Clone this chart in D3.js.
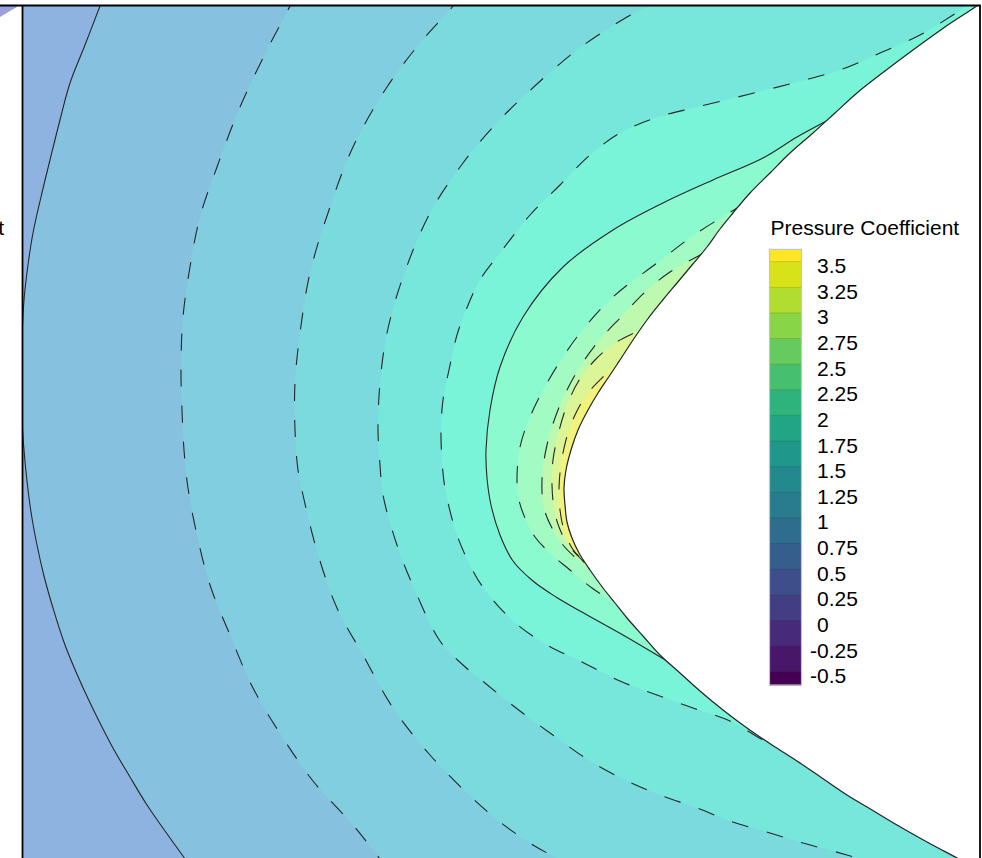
<!DOCTYPE html>
<html>
<head>
<meta charset="utf-8">
<script src="https://cdn.jsdelivr.net/npm/d3@7"></script>
<style>
  html, body { margin: 0; padding: 0; background: #fff; }
  svg { display: block; }
  text { font-family: "Liberation Sans", Arial, Helvetica, sans-serif; fill: #000; }
</style>
</head>
<body>
<svg id="chart" width="982" height="858"></svg>
<script>
// Pressure-coefficient field around a blunt nose, nose-radius units (x downstream, y up).

// Body surface, upper shoulder -> stagnation point -> lower shoulder
const bodySurface = [
  [4.265, 4.93], [4.145, 4.83], [3.815, 4.61], [3.495, 4.38], [3.215, 4.17], [2.935, 3.95],
  [2.715, 3.75], [2.495, 3.55], [2.265, 3.35], [2.065, 3.15], [1.865, 2.95], [1.695, 2.75],
  [1.565, 2.59], [1.435, 2.41], [1.285, 2.23], [1.135, 2.05], [0.985, 1.87], [0.835, 1.68],
  [0.695, 1.48], [0.565, 1.28], [0.445, 1.10], [0.345, 0.95], [0.245, 0.78], [0.145, 0.58],
  [0.075, 0.38], [0.025, 0.18], [0.005, 0.00], [0.015, -0.17], [0.035, -0.34], [0.085, -0.50],
  [0.155, -0.65], [0.265, -0.82], [0.395, -1.00], [0.515, -1.15], [0.635, -1.30], [0.795, -1.48],
  [0.965, -1.67], [1.165, -1.85], [1.365, -2.03], [1.595, -2.22], [1.835, -2.40], [2.085, -2.57],
  [2.335, -2.73], [2.585, -2.90], [2.835, -3.07], [3.085, -3.22], [3.335, -3.37], [3.635, -3.54],
  [3.935, -3.70], [4.215, -3.85]
];

// Iso-Cp lines, one array per level
const cp08 = [[-5.40, 4.85], [-5.425, 4.835], [-5.635, 4.71], [-5.80, 4.61]];
const cp10 = [
  [-4.595, 4.93], [-4.635, 4.82], [-4.785, 4.43], [-4.935, 4.05], [-5.035, 3.68], [-5.135, 3.28],
  [-5.225, 2.91], [-5.305, 2.55], [-5.355, 2.23], [-5.395, 1.88], [-5.415, 1.48], [-5.42, 1.08],
  [-5.415, 0.68], [-5.395, 0.38], [-5.365, 0.07], [-5.325, -0.24], [-5.265, -0.57], [-5.195, -0.88],
  [-5.105, -1.20], [-4.985, -1.57], [-4.835, -1.93], [-4.675, -2.27], [-4.505, -2.60], [-4.335, -2.89],
  [-4.165, -3.17], [-3.985, -3.43], [-3.805, -3.68], [-3.685, -3.84]
];
const cp12 = [
  [-2.685, 4.93], [-2.735, 4.82], [-2.965, 4.38], [-3.235, 3.81], [-3.465, 3.21], [-3.635, 2.71],
  [-3.735, 2.21], [-3.805, 1.71], [-3.825, 1.21], [-3.815, 0.78], [-3.795, 0.38], [-3.755, 0.00],
  [-3.665, -0.47], [-3.535, -0.97], [-3.335, -1.47], [-3.105, -2.00], [-2.805, -2.50], [-2.505, -2.93],
  [-2.105, -3.37], [-1.905, -3.62], [-1.735, -3.84]
];
const cp14 = [
  [-1.035, 4.93], [-1.105, 4.82], [-1.435, 4.45], [-1.765, 4.01], [-2.105, 3.41], [-2.335, 2.81],
  [-2.535, 2.15], [-2.635, 1.55], [-2.685, 1.05], [-2.685, 0.58], [-2.655, 0.18], [-2.605, -0.07],
  [-2.465, -0.63], [-2.265, -1.20], [-2.005, -1.67], [-1.705, -2.20], [-1.335, -2.67], [-0.965, -3.05],
  [-0.635, -3.34], [-0.305, -3.57], [-0.035, -3.72], [0.165, -3.84]
];
const cp16 = [
  [0.965, 4.93], [0.835, 4.82], [0.635, 4.71], [0.135, 4.38], [-0.405, 3.91], [-0.705, 3.61],
  [-1.005, 3.25], [-1.335, 2.75], [-1.605, 2.11], [-1.765, 1.55], [-1.835, 1.05], [-1.855, 0.58],
  [-1.835, 0.23], [-1.805, -0.07], [-1.665, -0.57], [-1.465, -1.07], [-1.235, -1.53], [-1.005, -1.77],
  [-0.785, -1.95], [-0.435, -2.23], [-0.065, -2.50], [0.265, -2.73], [0.635, -2.93], [0.965, -3.07],
  [1.335, -3.20], [1.665, -3.33], [2.065, -3.45], [2.395, -3.55], [2.835, -3.67], [3.265, -3.80]
];
const cp18 = [
  [4.215, 4.93], [4.045, 4.83], [3.895, 4.73], [3.565, 4.53], [3.165, 4.35], [2.765, 4.18],
  [2.335, 4.06], [1.865, 3.94], [1.335, 3.81], [0.915, 3.70], [0.565, 3.55], [0.265, 3.33],
  [-0.035, 3.03], [-0.335, 2.73], [-0.635, 2.35], [-0.835, 2.08], [-0.975, 1.78], [-1.065, 1.53],
  [-1.145, 1.18], [-1.205, 0.88], [-1.225, 0.58], [-1.215, 0.28], [-1.185, 0.00], [-1.065, -0.47],
  [-0.905, -0.83], [-0.785, -1.02], [-0.505, -1.33], [-0.165, -1.57], [0.165, -1.73], [0.565, -1.93],
  [0.935, -2.07], [1.295, -2.20], [1.665, -2.33], [1.995, -2.52], [2.335, -2.70], [2.665, -2.90],
  [2.935, -3.07], [3.165, -3.20], [3.415, -3.33], [3.715, -3.46]
];
const cp20 = [
  [3.015, 3.88], [2.665, 3.69], [2.335, 3.51], [1.995, 3.30], [1.495, 3.08], [0.995, 2.85],
  [0.495, 2.58], [-0.005, 2.21], [-0.405, 1.71], [-0.635, 1.21], [-0.735, 0.78], [-0.775, 0.38],
  [-0.765, 0.10], [-0.725, -0.17], [-0.635, -0.47], [-0.505, -0.73], [-0.305, -0.93], [-0.075, -1.09],
  [0.165, -1.23], [0.595, -1.47], [1.035, -1.73], [1.475, -1.99], [1.765, -2.17]
];
const cp22 = [
  [2.115, 3.05], [1.735, 2.80], [1.335, 2.55], [0.935, 2.25], [0.495, 1.91], [0.135, 1.51],
  [-0.165, 1.05], [-0.335, 0.71], [-0.435, 0.41], [-0.465, 0.08], [-0.445, -0.12], [-0.385, -0.30],
  [-0.285, -0.49], [-0.135, -0.65], [0.065, -0.82], [0.285, -1.00], [0.515, -1.15], [0.765, -1.30]
];
const cp24 = [
  [1.715, 2.53], [1.365, 2.33], [1.065, 2.16], [0.815, 1.96], [0.585, 1.72], [0.335, 1.45],
  [0.115, 1.13], [-0.055, 0.78], [-0.165, 0.43], [-0.215, 0.08], [-0.195, -0.20], [-0.115, -0.40],
  [-0.005, -0.57], [0.145, -0.72], [0.295, -0.84], [0.515, -1.01]
];
const cp26 = [
  [1.015, 1.71], [0.765, 1.58], [0.515, 1.45], [0.315, 1.28], [0.145, 1.06], [0.025, 0.80],
  [-0.055, 0.53], [-0.105, 0.28], [-0.115, 0.03], [-0.095, -0.20], [-0.045, -0.39], [0.035, -0.55],
  [0.145, -0.68], [0.365, -0.90]
];
const cp28 = [
  [0.665, 1.36], [0.415, 1.13], [0.245, 0.95], [0.115, 0.73], [0.025, 0.48], [-0.025, 0.23],
  [-0.045, 0.00], [-0.035, -0.22], [0.005, -0.42], [0.085, -0.60], [0.215, -0.75], [0.365, -0.92]
];

const contourLevels = [0.8, 1.0, 1.2, 1.4, 1.6, 1.8, 2.0, 2.2, 2.4, 2.6, 2.8];
const contourLines = [cp08, cp10, cp12, cp14, cp16, cp18, cp20, cp22, cp24, cp26, cp28];

// Flood colours: below the first level, then above each level
const bandColors = [
  "#9a9fe0", "#8fb3e1", "#87c1e0", "#80cee0", "#7bdade", "#77e7db",
  "#79f4d8", "#8bfacf", "#a3fbc4", "#bff9b0", "#dcf697", "#f2f27c"
];

// Colour-bar tick labels
const legendTicks = [3.5, 3.25, 3, 2.75, 2.5, 2.25, 2, 1.75, 1.5, 1.25, 1, 0.75, 0.5, 0.25, 0, -0.25, -0.5];
const legendTitle = "Pressure Coefficient";

// ---------------------------------------------------------------------------
const svg = d3.select("#chart");
const frame = { left: 22.5, right: 980, top: 5.5, bottom: 870 };

const x = d3.scaleLinear().domain([-5.41, 4.165]).range([frame.left, frame.right]);
const y = d3.scaleLinear().domain([4.825, -3.82]).range([frame.top, frame.bottom]);
const bandColor = d3.scaleThreshold().domain(contourLevels).range(bandColors);

const curve = d3.line().x(d => x(d[0])).y(d => y(d[1])).curve(d3.curveCatmullRom.alpha(0.5));
const X_FAR = 6;   // closing abscissa, well inside the body / beyond the frame

// Region where Cp >= level: the iso-line closed on the downstream side
function upperRegion(pts) {
  const a = pts[0], b = pts[pts.length - 1];
  return curve(pts) + `L${x(X_FAR)},${y(b[1])}L${x(X_FAR)},${y(a[1])}Z`;
}

const defs = svg.append("defs");
defs.append("clipPath").attr("id", "frameClip")
  .append("rect")
  .attr("x", frame.left).attr("y", frame.top)
  .attr("width", frame.right - frame.left).attr("height", frame.bottom - frame.top);

// Flow domain = everything except the body interior
const bodyClosed = upperRegion(bodySurface);
defs.append("clipPath").attr("id", "flowClip")
  .append("path")
  .attr("clip-rule", "evenodd")
  .attr("d", `M-100,-100H1100V1000H-100Z` + bodyClosed);

defs.append("clipPath").attr("id", "outerClip")
  .append("rect").attr("x", 0).attr("y", frame.top).attr("width", frame.left).attr("height", 860);

// Low-pressure pocket just outside the left frame edge
const a0 = cp08[0], b0 = cp08[cp08.length - 1];
svg.append("path")
  .attr("clip-path", "url(#outerClip)")
  .attr("d", curve(cp08) + `L${x(-8)},${y(b0[1])}L${x(-8)},${y(a0[1])}Z`)
  .attr("fill", bandColor(contourLevels[0] - 0.1));

const plot = svg.append("g").attr("clip-path", "url(#frameClip)");
const flow = plot.append("g").attr("clip-path", "url(#flowClip)");

// Base flood between the first two levels
flow.append("rect")
  .attr("x", frame.left).attr("y", frame.top)
  .attr("width", frame.right - frame.left).attr("height", frame.bottom - frame.top)
  .attr("fill", bandColor(contourLevels[0]));

// Nested flooded regions, low to high
contourLines.slice(1).forEach((pts, i) => {
  flow.append("path")
    .attr("d", upperRegion(pts))
    .attr("fill", bandColor(contourLevels[i + 1]));
});

// Iso-lines: whole numbers solid, the rest dashed
contourLines.slice(1).forEach((pts, i) => {
  const lvl = contourLevels[i + 1];
  const solid = Math.abs(lvl - Math.round(lvl)) < 1e-6;
  flow.append("path")
    .attr("d", curve(pts))
    .attr("fill", "none")
    .attr("stroke", "#262626")
    .attr("stroke-width", 1.1)
    .attr("stroke-dasharray", solid ? null : "17,19");
});

// Body surface
plot.append("path")
  .attr("d", curve(bodySurface))
  .attr("fill", "none")
  .attr("stroke", "#262626")
  .attr("stroke-width", 1.2);

// Frame
const border = svg.append("g").attr("stroke", "#000").attr("stroke-width", 1.8).attr("fill", "none");
border.append("line").attr("x1", 0).attr("x2", frame.right + 0.9).attr("y1", frame.top).attr("y2", frame.top);
border.append("line").attr("x1", frame.left).attr("x2", frame.left).attr("y1", frame.top).attr("y2", 870);
border.append("line").attr("x1", frame.right).attr("x2", frame.right).attr("y1", frame.top).attr("y2", 870);

// Colour bar
const lg = { x: 769.5, w: 32, labelX: 817, fontSize: 21 };
const ly = d3.scaleLinear().domain([-0.5, 3.5]).range([671.7, 261.7]);
const lo = -0.63, hi = 3.62, step = 0.25;
const nSw = 18;
const legend = svg.append("g");
for (let i = 0; i < nSw; i++) {
  const v0 = Math.max(lo, -0.75 + step * i);
  const v1 = Math.min(hi, -0.5 + step * i);
  const c = d3.interpolateViridis(i / (nSw - 1));
  legend.append("rect")
    .attr("x", lg.x).attr("y", ly(v1))
    .attr("width", lg.w).attr("height", ly(v0) - ly(v1))
    .attr("fill", c)
    .attr("stroke", d3.color(c).darker(0.5))
    .attr("stroke-width", 0.8);
}
legend.append("rect")
  .attr("x", lg.x).attr("y", ly(hi))
  .attr("width", lg.w).attr("height", ly(lo) - ly(hi))
  .attr("fill", "none").attr("stroke", "#c4c4c4").attr("stroke-width", 1.2);

legend.selectAll("text.tick")
  .data(legendTicks)
  .join("text")
  .attr("class", "tick")
  .attr("x", d => d < 0 ? lg.labelX - 7 : lg.labelX)
  .attr("y", d => ly(d) + 11.5)
  .attr("font-size", lg.fontSize)
  .text(d => String(d));

legend.append("text")
  .attr("x", 770.5).attr("y", 235)
  .attr("font-size", lg.fontSize)
  .text(legendTitle);

// Caption running in from the left edge
svg.append("text")
  .attr("x", 4).attr("y", 235)
  .attr("text-anchor", "end")
  .attr("font-size", lg.fontSize)
  .text(legendTitle);
</script>
</body>
</html>
